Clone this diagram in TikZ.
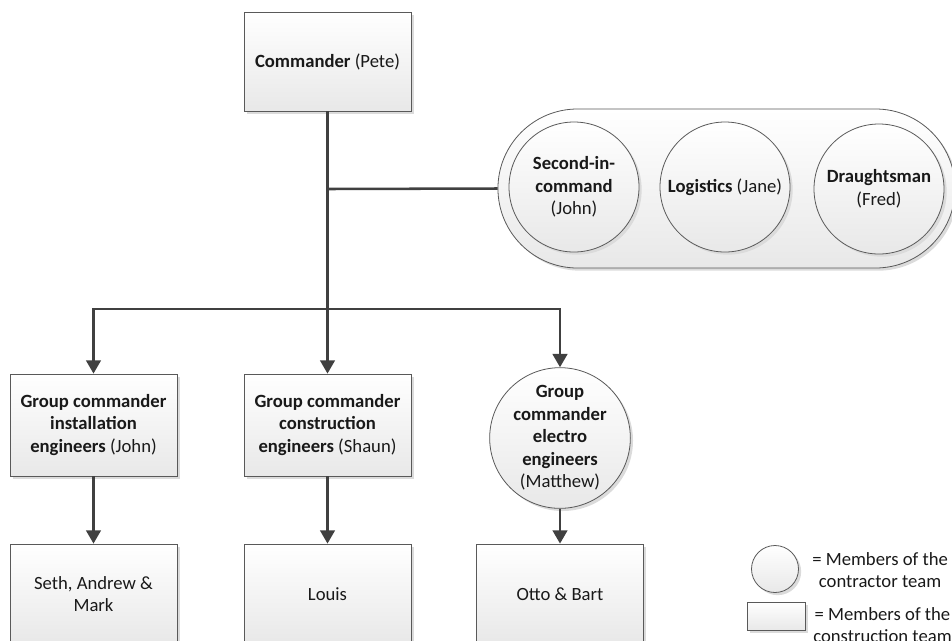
\documentclass[tikz,border=0pt]{standalone}
\usepackage{fontspec}
\setmainfont{Carlito}
\usetikzlibrary{shapes.misc,shadows,arrows.meta}
\begin{document}
\begin{tikzpicture}[x=0.75pt,y=-0.75pt,
  every node/.style={font=\fontsize{14}{16.9}\selectfont, text=black!90},
  member/.style={draw=black!65, line width=0.6pt, top color=white, bottom color=black!9,
     general shadow={fill=black!14, shadow xshift=2pt, shadow yshift=-2pt}},
  crewbox/.style={member, rectangle, minimum width=125.25pt, align=center, inner sep=2pt},
  crewcircle/.style={member, circle, minimum size=97.5pt, inner sep=0pt, align=center},
  link/.style={draw=black!75, line width=1.9pt},
  feed/.style={link, -{Triangle[width=11pt,length=10pt]}}]

\useasboundingbox (0,0) rectangle (952,640);
\clip (0,0) rectangle (952,640);

% commander
\node[crewbox, minimum height=74.25pt] (cmd) at (327.5,61.5) {\textbf{Commander} (Pete)};

% staff pool with its three members
\node[member, rounded rectangle, minimum width=349.5pt, minimum height=119.25pt] (pool) at (726.5,188.5) {};
\node[crewcircle] (second) at (574,187) {\textbf{Second-in-}\\\textbf{command}\\(John)};
\node[crewcircle] (logistics) at (725,187) {\textbf{Logistics} (Jane)};
\node[crewcircle] (draught) at (879,189) {\textbf{Draughtsman}\\(Fred)};

% group commanders
\node[crewbox, minimum height=76.5pt] (g1) at (93.5,425)
  {\textbf{Group commander}\\\textbf{installation}\\\textbf{engineers} (John)};
\node[crewbox, minimum height=76.5pt] (g2) at (327.5,425)
  {\textbf{Group commander}\\\textbf{construction}\\\textbf{engineers} (Shaun)};
\node[crewcircle] (g3) at (560,438)
  {\textbf{Group}\\\textbf{commander}\\\textbf{electro}\\\textbf{engineers}\\(Matthew)};

% teams
\node[crewbox, minimum height=75pt] (b1) at (93.5,594) {Seth, Andrew \&\\Mark};
\node[crewbox, minimum height=75pt] (b2) at (327.5,594) {Louis};
\node[crewbox, minimum height=75pt] (b3) at (560,594) {Otto \& Bart};

% connectors
\coordinate (tap) at (327.5,189);
\coordinate (split) at (327.5,309);
\draw[link] (cmd.south) -- (split);
\draw[link] (tap) -- (pool.west);
\draw[feed] (split) -| (g1.north);
\draw[feed] (split) -- (g2.north);
\draw[feed] (split) -| (g3.north);
\draw[feed] (g1) -- (b1);
\draw[feed] (g2) -- (b2);
\draw[feed] (g3) -- (b3);

% legend
\node[member, circle, minimum size=35.25pt, inner sep=0pt] (keyc) at (775,569) {};
\node[anchor=west, align=center, inner sep=0pt] (keyct) at (812,570) {= Members of the\\contractor team};
\node[member, rectangle, minimum width=43.5pt, minimum height=21pt, inner sep=0pt] (keyr) at (776,616) {};
\node[anchor=west, align=center, inner sep=0pt] (keyrt) at (813,625) {= Members of the\\construction team};
\end{tikzpicture}
\end{document}
